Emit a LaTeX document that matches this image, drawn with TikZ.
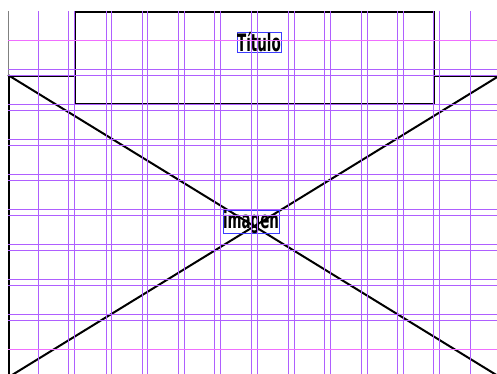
\documentclass[tikz,border=0pt]{standalone}
\usepackage{fontspec}
\newfontfamily\lblfont[FakeStretch=0.56]{DejaVu Sans Bold}
\usetikzlibrary{positioning}
\definecolor{gridpurple}{RGB}{175,95,255}
\definecolor{gridpink}{RGB}{240,110,255}
\definecolor{lblblue}{RGB}{60,60,255}

\begin{document}
\begin{tikzpicture}[
    x=1pt, y=-1pt,
    imgframe/.style={rectangle, draw=black, line width=2pt, anchor=north west, inner sep=0pt},
    titlebox/.style={rectangle, draw=black, fill=white, line width=1.8pt, anchor=north west, inner sep=0pt},
    lbl/.style={rectangle, draw=lblblue, line width=0.5pt, inner sep=0pt, font=\lblfont\fontsize{24}{24}\selectfont},
    diag/.style={line width=2pt, black},
    gridline/.style={gridpurple, line width=1.1pt},
    marginline/.style={gridpink, line width=1.1pt},
    edgeline/.style={gray, line width=1pt}
]
\useasboundingbox (0,0) rectangle (497,374);

% === Image placeholder (crossed frame) ===
\node[imgframe, minimum width=490.5pt, minimum height=300.5pt] (img) at (8,75) {};
\draw[diag] (img.north west) -- (img.south east);
\draw[diag] (img.south west) -- (img.north east);
\node[lbl] (imglbl) at (251,221.5) {imagen};

% === Title box (top) ===
\node[titlebox, minimum width=359pt, minimum height=92pt] (tbox) at (74,11) {};
\node[lbl] (titlelbl) at (259,42.5) {Título};

% Page edge above the image
\coordinate (pagetop) at (8,11);
\draw[edgeline] (pagetop) -- (img.north west);

% === Layout grid: 12 columns, 9 rows ===
\foreach \gx in {38,68,74,106,111,142,147,178,184,214,220,251,257,288,294,324,330,361,367,397,403,433,439,470}
    \draw[gridline] (\gx+0.5,11) -- (\gx+0.5,374);
\foreach \gy in {69,75,104,110,139,145,174,180,209,215,244,250,279,285,314,320}
    \draw[gridline] (8,\gy+0.5) -- (497,\gy+0.5);
\draw[marginline] (8,40.5) -- (497,40.5);
\draw[marginline] (8,349.5) -- (497,349.5);

\end{tikzpicture}
\end{document}
